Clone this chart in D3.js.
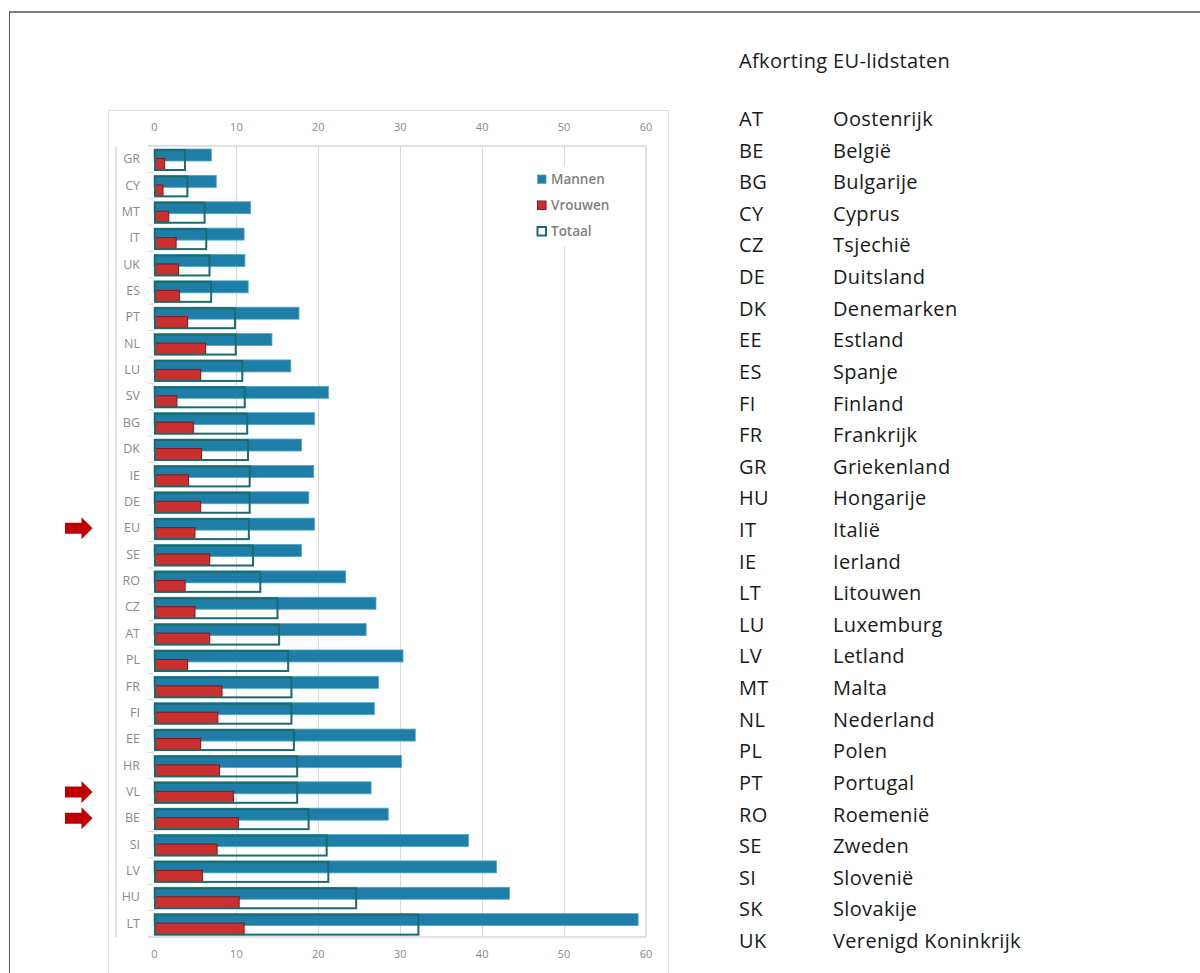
<!DOCTYPE html>
<html>
<head>
<meta charset="utf-8">
<script src="https://cdn.jsdelivr.net/npm/d3@7"></script>
<style>
  html, body { margin: 0; padding: 0; background: #ffffff; }
  svg { display: block; }
</style>
</head>
<body>
<svg id="chart" width="1200" height="973"></svg>
<script>
// Lidstaten, gesorteerd op totaal
const categories = ["GR","CY","MT","IT","UK","ES","PT","NL","LU","SV","BG","DK","IE","DE","EU",
  "SE","RO","CZ","AT","PL","FR","FI","EE","HR","VL","BE","SI","LV","HU","LT"];
const mannen  = [7.0, 7.6, 11.8, 11.0, 11.1, 11.5, 17.7, 14.4, 16.7, 21.3, 19.6, 18.0, 19.5, 18.9, 19.6,
  18.0, 23.4, 27.1, 25.9, 30.4, 27.4, 26.9, 31.9, 30.2, 26.5, 28.6, 38.4, 41.8, 43.4, 59.1];
const vrouwen = [1.3, 1.1, 1.8, 2.7, 3.0, 3.1, 4.1, 6.3, 5.7, 2.8, 4.8, 5.8, 4.2, 5.7, 5.0,
  6.8, 3.8, 5.0, 6.8, 4.1, 8.3, 7.8, 5.7, 8.0, 9.7, 10.3, 7.7, 5.9, 10.4, 11.0];
const totaal  = [3.9, 4.2, 6.3, 6.5, 6.9, 7.1, 10.0, 10.1, 10.9, 11.2, 11.5, 11.6, 11.8, 11.8, 11.7,
  12.2, 13.1, 15.2, 15.4, 16.5, 16.9, 16.9, 17.2, 17.6, 17.6, 19.0, 21.2, 21.4, 24.8, 32.4];
const xTicks = [0, 10, 20, 30, 40, 50, 60];
const highlighted = ["EU", "VL", "BE"];
const seriesNames = ["Mannen", "Vrouwen", "Totaal"];

const abbrCodes = ["AT","BE","BG","CY","CZ","DE","DK","EE","ES","FI","FR","GR","HU","IT","IE",
  "LT","LU","LV","MT","NL","PL","PT","RO","SE","SI","SK","UK"];
const abbrNames = ["Oostenrijk","België","Bulgarije","Cyprus","Tsjechië","Duitsland","Denemarken",
  "Estland","Spanje","Finland","Frankrijk","Griekenland","Hongarije","Italië","Ierland","Litouwen",
  "Luxemburg","Letland","Malta","Nederland","Polen","Portugal","Roemenië","Zweden","Slovenië",
  "Slovakije","Verenigd Koninkrijk"];

const rows = categories.map((c, i) => ({ cat: c, m: mannen[i], v: vrouwen[i], t: totaal[i] }));

const COL_M = "#1f7ea8", COL_M_EDGE = "#4ea9c2";
const COL_V = "#c9302f", COL_V_EDGE = "#8a1414";
const COL_T = "#1b6b6e";
const GRID = "#d9d9d9";
const TXT = "#8a8a8a";
const FONT = "'Open Sans', 'Noto Sans', sans-serif";

const svg = d3.select("#chart");

// Page frame
svg.append("line").attr("x1", 9).attr("x2", 1200).attr("y1", 12).attr("y2", 12)
  .attr("stroke", "#808080").attr("stroke-width", 2);
svg.append("line").attr("x1", 9.5).attr("x2", 9.5).attr("y1", 11).attr("y2", 973)
  .attr("stroke", "#555").attr("stroke-width", 1);

// Chart container
svg.append("rect").attr("x", 108.5).attr("y", 110.5).attr("width", 560).attr("height", 880)
  .attr("fill", "#fff").attr("stroke", "#e0e0e0").attr("stroke-width", 1);

const x = d3.scaleLinear().domain([0, 60]).range([154, 645.5]);
const y = d3.scaleBand().domain(categories).range([146, 937]).padding(0);
const bw = y.bandwidth();

// Vertical gridlines
svg.append("g").selectAll("line").data(xTicks.slice(1, -1)).join("line")
  .attr("x1", d => Math.round(x(d)) + 0.5).attr("x2", d => Math.round(x(d)) + 0.5)
  .attr("y1", 146).attr("y2", 937)
  .attr("stroke", GRID).attr("stroke-width", 1);

// Plot frame
const frame = svg.append("g").attr("stroke", GRID).attr("stroke-width", 1.5).attr("fill", "none");
frame.append("line").attr("x1", 148).attr("x2", 646).attr("y1", 146).attr("y2", 146);
frame.append("line").attr("x1", 148).attr("x2", 646).attr("y1", 937).attr("y2", 937);
frame.append("line").attr("x1", 646).attr("x2", 646).attr("y1", 146).attr("y2", 937);
frame.append("line").attr("x1", 116).attr("x2", 116).attr("y1", 147).attr("y2", 937);

// Category tick marks at band boundaries
const bounds = categories.map(c => y(c)).concat([937]);
svg.append("g").selectAll("line").data(bounds).join("line")
  .attr("x1", 148).attr("x2", 154).attr("y1", d => d).attr("y2", d => d)
  .attr("stroke", GRID).attr("stroke-width", 1);

// Value axes, top and bottom
function styleAxis(g) {
  g.select(".domain").remove();
  g.selectAll("text").attr("fill", TXT).attr("font-family", FONT).attr("font-size", 11)
    .attr("y", 0).attr("dy", "0.35em");
}
svg.append("g").attr("transform", "translate(0,127)")
  .call(d3.axisTop(x).tickValues(xTicks).tickSize(0).tickPadding(0)).call(styleAxis);
svg.append("g").attr("transform", "translate(0,954)")
  .call(d3.axisBottom(x).tickValues(xTicks).tickSize(0).tickPadding(0)).call(styleAxis);

// Category labels
svg.append("g").attr("transform", "translate(140,0)")
  .call(d3.axisLeft(y).tickSize(0).tickPadding(0))
  .call(g => g.select(".domain").remove())
  .selectAll("text").attr("fill", TXT).attr("font-family", FONT).attr("font-size", 12.5);

// Bars
const bars = svg.append("g");
bars.selectAll("rect.m").data(rows).join("rect").attr("class", "m")
  .attr("x", x(0)).attr("y", d => y(d.cat) + 3)
  .attr("width", d => x(d.m) - x(0)).attr("height", 12)
  .attr("fill", COL_M).attr("stroke", COL_M_EDGE).attr("stroke-width", 0.8);
bars.selectAll("rect.v").data(rows).join("rect").attr("class", "v")
  .attr("x", x(0) + 1.5).attr("y", d => y(d.cat) + 12.5)
  .attr("width", d => x(d.v) - x(0) - 1.5).attr("height", 11.5)
  .attr("fill", COL_V).attr("stroke", COL_V_EDGE).attr("stroke-width", 1);
bars.selectAll("rect.t").data(rows).join("rect").attr("class", "t")
  .attr("x", x(0) + 1).attr("y", d => y(d.cat) + 4)
  .attr("width", d => x(d.t) - x(0) - 2).attr("height", 20)
  .attr("fill", "none").attr("stroke", COL_T).attr("stroke-width", 2);

// Legend
const lg = svg.append("g").attr("transform", "translate(533,166)");
lg.append("rect").attr("x", 0).attr("y", 0).attr("width", 105).attr("height", 80).attr("fill", "#fff");
const legendItems = [
  { name: seriesNames[0], fill: COL_M, stroke: COL_M_EDGE, sw: 0.8 },
  { name: seriesNames[1], fill: COL_V, stroke: COL_V_EDGE, sw: 1 },
  { name: seriesNames[2], fill: "#fff", stroke: COL_T, sw: 2 }
];
const li = lg.selectAll("g").data(legendItems).join("g")
  .attr("transform", (d, i) => `translate(0,${13 + i * 26})`);
li.append("rect").attr("x", 4.5).attr("y", -4).attr("width", 8.5).attr("height", 8.5)
  .attr("fill", d => d.fill).attr("stroke", d => d.stroke).attr("stroke-width", d => d.sw);
li.append("text").attr("x", 18).attr("y", 0).attr("dy", "0.35em")
  .attr("font-family", FONT).attr("font-size", 13.5).attr("font-weight", 600)
  .attr("fill", "#7f7f7f").text(d => d.name);

// Arrows pointing at highlighted rows
const arrow = "M0,-5.5 L16.5,-5.5 L16.5,-11 L27.5,0 L16.5,11 L16.5,5.5 L0,5.5 Z";
svg.append("g").selectAll("path").data(highlighted).join("path")
  .attr("d", arrow)
  .attr("transform", d => `translate(65,${y(d) + bw / 2})`)
  .attr("fill", "#c00000");

// Abbreviation list
const list = svg.append("g").attr("font-family", FONT).attr("fill", "#1a1a1a")
  .attr("font-size", 20).attr("letter-spacing", 0.35);
list.append("text").attr("x", 739).attr("y", 61).attr("dy", "0.35em")
  .text("Afkorting EU-lidstaten");
const ly = d3.scalePoint().domain(abbrCodes).range([119, 941]);
list.selectAll("text.code").data(abbrCodes).join("text").attr("class", "code")
  .attr("x", 739).attr("y", d => ly(d)).attr("dy", "0.35em").text(d => d);
list.selectAll("text.name").data(abbrNames).join("text").attr("class", "name")
  .attr("x", 833).attr("y", (d, i) => ly(abbrCodes[i])).attr("dy", "0.35em").text(d => d);
</script>
</body>
</html>
